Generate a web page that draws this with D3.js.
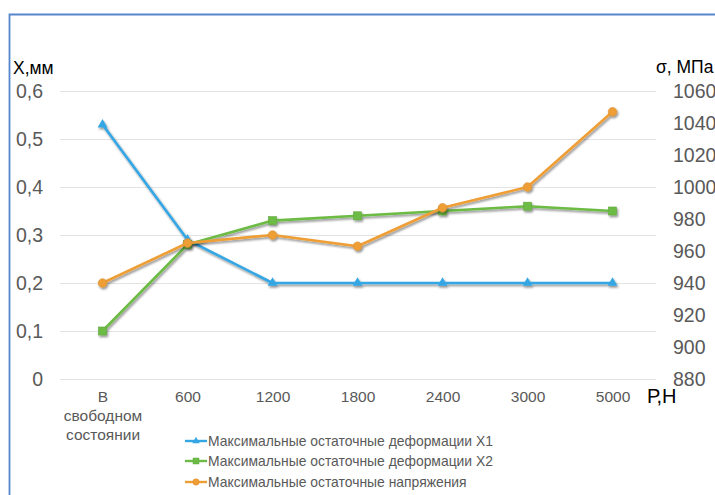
<!DOCTYPE html>
<html><head><meta charset="utf-8">
<script src="https://cdn.jsdelivr.net/npm/d3@7"></script>
<style>body{margin:0;background:#fff}svg{display:block}</style>
</head><body>
<svg id="c" width="715" height="495"></svg>
<script>
const categories = ["В свободном состоянии","600","1200","1800","2400","3000","5000"];
const x1Values = [0.53,0.29,0.20,0.20,0.20,0.20,0.20];
const x2Values = [0.10,0.28,0.33,0.34,0.35,0.36,0.35];
const sigmaValues = [940,965,970,963,987,1000,1047];
const leftTicks = [0,0.1,0.2,0.3,0.4,0.5,0.6];
const rightTicks = [880,900,920,940,960,980,1000,1020,1040,1060];
const seriesNames = ["Максимальные остаточные деформации X1","Максимальные остаточные деформации X2","Максимальные остаточные напряжения"];

const svg = d3.select("#c");
const defs = svg.append("defs");
const f = defs.append("filter").attr("id","sh").attr("x","-10%").attr("y","-10%").attr("width","130%").attr("height","130%");
f.append("feDropShadow").attr("dx",1.2).attr("dy",1.8).attr("stdDeviation",1.1).attr("flood-color","#000").attr("flood-opacity",0.45);

// border
svg.append("path").attr("d","M9.5,495 V14.5 H715").attr("fill","none").attr("stroke","#5686CC").attr("stroke-width",1.8);

const x = d3.scalePoint().domain(categories).range([60,655]).padding(0.5);
const yL = d3.scaleLinear().domain([0,0.6]).range([379,91]);
const yR = d3.scaleLinear().domain([880,1060]).range([379,91]);

const FONT = "Liberation Sans, Arial, sans-serif";

// gridlines
svg.append("g").selectAll("line").data(leftTicks).join("line")
  .attr("x1",60).attr("x2",656).attr("y1",d=>yL(d)+0.5).attr("y2",d=>yL(d)+0.5)
  .attr("stroke","#e3e3e3").attr("stroke-width",1.2);

// left axis
const la = svg.append("g").attr("transform","translate(43,0)")
  .call(d3.axisLeft(yL).tickValues(leftTicks).tickSize(0).tickPadding(0).tickFormat(d=>d===0?"0":d3.format(".1f")(d).replace(".",",")));
la.select(".domain").remove();
la.selectAll("text").attr("font-family",FONT).attr("font-size",19.5).attr("fill","#595959");

// right axis
const ra = svg.append("g").attr("transform","translate(673,0)")
  .call(d3.axisRight(yR).tickValues(rightTicks).tickSize(0).tickPadding(0).tickFormat(d3.format("d")));
ra.select(".domain").remove();
ra.selectAll("text").attr("font-family",FONT).attr("font-size",19.5).attr("fill","#595959");

// x axis
const xa = svg.append("g").attr("transform","translate(0,391)")
  .call(d3.axisBottom(x).tickSize(0).tickPadding(0));
xa.select(".domain").remove();
xa.selectAll("text").attr("font-family",FONT).attr("font-size",15.5).attr("fill","#595959")
  .each(function(d){
    const t = d3.select(this); t.text(null);
    const parts = d==="В свободном состоянии" ? ["В","свободном","состоянии"] : [d];
    parts.forEach((p,i)=>t.append("tspan").attr("x",0).attr("dy", i===0?"0.71em":"1.22em").text(p));
  });

// axis titles
svg.append("text").attr("x",13).attr("y",74).attr("font-family",FONT).attr("font-size",17.5).attr("fill","#000").text("X,мм");
svg.append("text").attr("x",656).attr("y",73).attr("font-family",FONT).attr("font-size",17.5).attr("fill","#000").text("σ, МПа");
svg.append("text").attr("x",647).attr("y",403).attr("font-family",FONT).attr("font-size",20).attr("fill","#000").text("Р,Н");

const colors = ["#35A6E4","#6CBB45","#EE9E35"];
const series = [
  {vals:x1Values, y:yL, c:colors[0], m:"triangle"},
  {vals:x2Values, y:yL, c:colors[1], m:"square"},
  {vals:sigmaValues, y:yR, c:colors[2], m:"circle"}
];
function marker(g, type, c){
  if(type==="triangle") g.append("path").attr("d",d3.symbol(d3.symbolTriangle,42)()).attr("fill",c);
  else if(type==="square") g.append("rect").attr("x",-4).attr("y",-4).attr("width",8).attr("height",8).attr("fill",c).attr("stroke",d3.color(c).darker(0.3)).attr("stroke-width",0.6);
  else g.append("circle").attr("r",4.3).attr("fill",c).attr("stroke",d3.color(c).darker(0.3)).attr("stroke-width",0.6);
}
series.forEach(s=>{
  const g = svg.append("g").attr("filter","url(#sh)");
  const line = d3.line().x((d,i)=>x(categories[i])).y(d=>s.y(d));
  g.append("path").attr("d",line(s.vals)).attr("fill","none").attr("stroke",s.c).attr("stroke-width",2.6).attr("stroke-linejoin","round");
  s.vals.forEach((v,i)=>{
    const mg = g.append("g").attr("transform",`translate(${x(categories[i])},${s.y(v)})`);
    marker(mg,s.m,s.c);
  });
});

// legend
const leg = svg.append("g");
seriesNames.forEach((n,i)=>{
  const yy = [441,461,482][i];
  const g = leg.append("g").attr("transform",`translate(0,${yy})`);
  g.append("line").attr("x1",185).attr("x2",207).attr("stroke",colors[i]).attr("stroke-width",2.4);
  const mg = g.append("g").attr("transform","translate(196,0) scale(0.75)");
  marker(mg, series[i].m, colors[i]);
  g.append("text").attr("x",208).attr("y",0).attr("dy","0.35em").attr("font-family",FONT).attr("font-size",13.9).attr("fill","#595959").text(n);
});
</script>
</body></html>
